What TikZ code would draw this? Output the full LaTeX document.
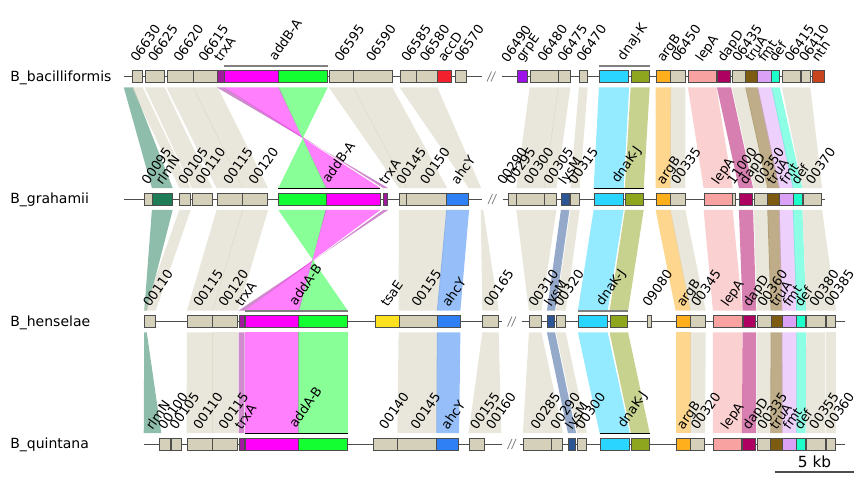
\documentclass[tikz,border=0pt]{standalone}
\usepackage{fontspec}
\setmainfont{DejaVu Sans}
\usetikzlibrary{backgrounds}

\definecolor{beige}{HTML}{D4D0B9}
\definecolor{genedge}{HTML}{4D4D4D}
\definecolor{trxcol}{HTML}{A01A9C}
\definecolor{addBcol}{HTML}{FF00FA}
\definecolor{addAcol}{HTML}{14FF32}
\definecolor{accDcol}{HTML}{F2202D}
\definecolor{grpEcol}{HTML}{9E12EA}
\definecolor{dnaJcol}{HTML}{2AD6FF}
\definecolor{dnaKcol}{HTML}{8DA61E}
\definecolor{argBcol}{HTML}{FFAE1C}
\definecolor{lepAcol}{HTML}{F8A2A2}
\definecolor{dapDcol}{HTML}{AE0061}
\definecolor{truAcol}{HTML}{7D5C12}
\definecolor{fmtcol}{HTML}{DBA1F7}
\definecolor{defcol}{HTML}{1CFFCA}
\definecolor{nthcol}{HTML}{C7441E}
\definecolor{rlmNcol}{HTML}{1E7C57}
\definecolor{ahcYcol}{HTML}{2E80F4}
\definecolor{lysMcol}{HTML}{2C5596}
\definecolor{tsaEcol}{HTML}{FFE21F}

\tikzstyle{gene}=[rectangle, draw=genedge, line width=0.6pt, inner sep=0pt, minimum height=9pt]
\tikzstyle{stub}=[rectangle, inner sep=0pt, minimum height=9pt]
\tikzstyle{glab}=[rotate=55, anchor=base west, inner sep=0pt, font=\fontsize{9.75}{11}\selectfont]
\tikzstyle{rowname}=[anchor=base west, inner sep=0pt, font=\fontsize{10.5}{12}\selectfont]
\tikzstyle{homlink}=[fill opacity=0.5]
\tikzstyle{backbone}=[draw=genedge, line width=0.7pt]
\tikzstyle{brk}=[draw=gray, line width=0.6pt]
\tikzstyle{greybar}=[draw=gray, line width=1.3pt]
\tikzstyle{blackbar}=[draw=black, line width=1.3pt]

\newcommand{\yA}{76.5}
\newcommand{\yB}{199}
\newcommand{\yC}{321.5}
\newcommand{\yD}{444}
\newcommand{\seg}[5]{\node[gene, fill=#5, minimum width={(#3-#2)*0.75pt}] (#1) at ({(#2+#3)/2},#4) {};}
\newcommand{\gene}[6]{\seg{#1}{#2}{#3}{#4}{#5}
  \node[glab] (#1-l) at ([yshift=5.25pt]#1.north) {#6};}
\newcommand{\stub}[4]{\node[stub, minimum width={(#3-#2)*0.75pt}] (#1) at ({(#2+#3)/2},#4) {};}
\newcommand{\stubl}[5]{\stub{#1}{#2}{#3}{#4}
  \node[glab] (#1-l) at ([yshift=5.25pt]#1.north) {#5};}
\newcommand{\grp}[4]{\draw[#1] ([yshift=3pt]#2.north west) -- node[glab, pos=.5, xshift=2pt, yshift=2.25pt] (#2-g) {#4} ([yshift=3pt]#3.north east);}
\newcommand{\band}[5]{\fill[homlink, #5] ([yshift=-3.4pt]#1.south west) -- ([yshift=-3.4pt]#2.south east)
  -- ([yshift=3.4pt]#4.north east) -- ([yshift=3.4pt]#3.north west) -- cycle;}
\newcommand{\homol}[3]{\band{#1}{#1}{#2}{#2}{#3}}
\newcommand{\invl}[3]{\fill[homlink, #3] ([yshift=-3.4pt]#1.south west) -- ([yshift=-3.4pt]#1.south east)
  -- ([yshift=3.4pt]#2.north west) -- ([yshift=3.4pt]#2.north east) -- cycle;}
\newcommand{\cut}[2]{\draw[brk] (#1,#2+5) -- (#1+4.5,#2-5) (#1+4,#2+5) -- (#1+8.5,#2-5);}

\begin{document}
\begin{tikzpicture}[x=0.75pt, y=-0.75pt]
\useasboundingbox (0,0) rectangle (864,482);

\node[rowname] (nA) at (10,\yA+4.5) {B\_bacilliformis};
\node[rowname] (nB) at (10,\yB+4.5) {B\_grahamii};
\node[rowname] (nC) at (10,\yC+4.5) {B\_henselae};
\node[rowname] (nD) at (10,\yD+4.5) {B\_quintana};

\draw[backbone] (124,\yA) -- (481.7,\yA) (502,\yA) -- (824,\yA);
\draw[backbone] (124,\yB) -- (481.7,\yB) (503,\yB) -- (825,\yB);
\draw[backbone] (144,\yC) -- (501.7,\yC) (521.7,\yC) -- (845,\yC);
\draw[backbone] (144,\yD) -- (501.7,\yD) (520,\yD) -- (845,\yD);
\cut{487}{\yA}
\cut{488}{\yB}
\cut{507.5}{\yC}
\cut{507.5}{\yD}

\stub{arlmN}{124}{133}{\yA}
\gene{a06630}{132.3}{142.3}{\yA}{beige}{06630}
\gene{a06625}{145.3}{164.3}{\yA}{beige}{06625}
\gene{a06620}{167}{193.3}{\yA}{beige}{06620}
\gene{a06615}{193.3}{217.3}{\yA}{beige}{06615}
\gene{atrxA}{217.3}{224}{\yA}{trxcol}{trxA}
\seg{aaddB}{224.7}{278.7}{\yA}{addBcol}
\seg{aaddA}{278.7}{327.3}{\yA}{addAcol}
\gene{a06595}{329.3}{353.3}{\yA}{beige}{06595}
\gene{a06590}{353.3}{392}{\yA}{beige}{06590}
\gene{a06585}{400}{416}{\yA}{beige}{06585}
\gene{a06580}{416}{437}{\yA}{beige}{06580}
\gene{aaccD}{437}{451.7}{\yA}{accDcol}{accD}
\gene{a06570}{455}{466.7}{\yA}{beige}{06570}
\node[glab] (a06490-l) at (508,\yA-13) {06490};
\gene{agrpE}{517}{527.7}{\yA}{grpEcol}{grpE}
\gene{a06480}{530}{558.3}{\yA}{beige}{06480}
\gene{a06475}{558.3}{570}{\yA}{beige}{06475}
\gene{a06470}{579.3}{587.3}{\yA}{beige}{06470}
\seg{adnaJ}{599.3}{628.7}{\yA}{dnaJcol}
\seg{adnaK}{631}{649.3}{\yA}{dnaKcol}
\gene{aargB}{656}{670.7}{\yA}{argBcol}{argB}
\gene{a06450}{670.7}{685}{\yA}{beige}{06450}
\gene{alepA}{688.3}{716}{\yA}{lepAcol}{lepA}
\gene{adapD}{717.3}{730.7}{\yA}{dapDcol}{dapD}
\gene{a06435}{732.3}{745.7}{\yA}{beige}{06435}
\gene{atruA}{745.7}{757.7}{\yA}{truAcol}{truA}
\gene{afmt}{757.7}{771.7}{\yA}{fmtcol}{fmt}
\gene{adef}{771.7}{779.3}{\yA}{defcol}{def}
\gene{a06415}{782.3}{800}{\yA}{beige}{06415}
\gene{a06410}{801.3}{810}{\yA}{beige}{06410}
\gene{anth}{812.3}{824.3}{\yA}{nthcol}{nth}
\grp{greybar}{aaddB}{aaddA}{addB-A}
\grp{greybar}{adnaJ}{adnaK}{dnaJ-K}

\gene{b00095}{144.3}{152.3}{\yB}{beige}{00095}
\gene{brlmN}{152.3}{172.3}{\yB}{rlmNcol}{rlmN}
\gene{b00105}{179.7}{190.3}{\yB}{beige}{00105}
\gene{b00110}{192.3}{212}{\yB}{beige}{00110}
\gene{b00115}{217}{242.7}{\yB}{beige}{00115}
\gene{b00120}{242.7}{267.7}{\yB}{beige}{00120}
\seg{baddA}{278.7}{326}{\yB}{addAcol}
\seg{baddB}{326}{380}{\yB}{addBcol}
\gene{btrxA}{383.7}{387.7}{\yB}{trxcol}{trxA}
\gene{b00145}{399.3}{406.7}{\yB}{beige}{00145}
\gene{b00150}{406.7}{446.7}{\yB}{beige}{00150}
\gene{bahcY}{446.7}{468.7}{\yB}{ahcYcol}{ahcY}
\stub{bx}{469}{481}{\yB}
\stub{by}{481}{483}{\yB}
\node[glab] (b00290-l) at (504,\yB-13) {00290};
\gene{b00295}{508.3}{516.7}{\yB}{beige}{00295}
\gene{b00300}{516.7}{544.3}{\yB}{beige}{00300}
\gene{b00305}{544.3}{556}{\yB}{beige}{00305}
\gene{blysM}{561.3}{569}{\yB}{lysMcol}{lysM}
\gene{b00315}{570.7}{579.3}{\yB}{beige}{00315}
\seg{bdnaK}{594}{623.3}{\yB}{dnaJcol}
\seg{bdnaJ}{625.3}{643.3}{\yB}{dnaKcol}
\gene{bargB}{656}{670.3}{\yB}{argBcol}{argB}
\gene{b00335}{670.3}{685}{\yB}{beige}{00335}
\gene{blepA}{704}{732.3}{\yB}{lepAcol}{lepA}
\gene{b11000}{732.3}{735.3}{\yB}{beige}{11000}
\gene{bdapD}{739.3}{752.7}{\yB}{dapDcol}{dapD}
\gene{b00350}{754.3}{767.7}{\yB}{beige}{00350}
\gene{btruA}{767.7}{779.3}{\yB}{truAcol}{truA}
\gene{bfmt}{779.3}{793.3}{\yB}{fmtcol}{fmt}
\gene{bdef}{793.3}{802}{\yB}{defcol}{def}
\gene{b00370}{803}{821.7}{\yB}{beige}{00370}
\grp{blackbar}{baddA}{baddB}{addB-A}
\grp{blackbar}{bdnaK}{bdnaJ}{dnaK-J}

\gene{c00110}{144.3}{155.3}{\yC}{beige}{00110}
\stub{crlmN}{144.5}{146.5}{\yC}
\gene{c00115}{187.3}{212.7}{\yC}{beige}{00115}
\gene{c00120}{212.7}{237.7}{\yC}{beige}{00120}
\gene{ctrxA}{239}{244.3}{\yC}{trxcol}{trxA}
\seg{caddB}{245.3}{298.7}{\yC}{addBcol}
\seg{caddA}{298.7}{347.3}{\yC}{addAcol}
\gene{ctsaE}{375.7}{399}{\yC}{tsaEcol}{tsaE}
\gene{c00155}{399}{437.3}{\yC}{beige}{00155}
\gene{cahcY}{437.3}{460}{\yC}{ahcYcol}{ahcY}
\gene{c00165}{482.7}{498.3}{\yC}{beige}{00165}
\gene{c00310}{529.3}{541}{\yC}{beige}{00310}
\gene{clysM}{547.3}{554.7}{\yC}{lysMcol}{lysM}
\gene{c00320}{556.3}{565.3}{\yC}{beige}{00320}
\seg{cdnaK}{578.3}{607.3}{\yC}{dnaJcol}
\seg{cdnaJ}{610}{627.7}{\yC}{dnaKcol}
\gene{c09080}{647.3}{651}{\yC}{beige}{09080}
\gene{cargB}{676}{690.3}{\yC}{argBcol}{argB}
\gene{c00345}{690.3}{705.3}{\yC}{beige}{00345}
\gene{clepA}{713.3}{742}{\yC}{lepAcol}{lepA}
\gene{cdapD}{743}{755.7}{\yC}{dapDcol}{dapD}
\gene{c00360}{757.3}{771}{\yC}{beige}{00360}
\gene{ctruA}{771}{782}{\yC}{truAcol}{truA}
\gene{cfmt}{782}{796.7}{\yC}{fmtcol}{fmt}
\gene{cdef}{796.7}{805.7}{\yC}{defcol}{def}
\gene{c00380}{806.7}{825}{\yC}{beige}{00380}
\gene{c00385}{826.3}{835.7}{\yC}{beige}{00385}
\grp{greybar}{caddB}{caddA}{addA-B}
\grp{greybar}{cdnaK}{cdnaJ}{dnaK-J}

\stubl{drlmN}{144}{161}{\yD}{rlmN}
\gene{d00100}{159.3}{170.3}{\yD}{beige}{00100}
\gene{d00105}{171.3}{181.3}{\yD}{beige}{00105}
\gene{d00110}{187}{212.7}{\yD}{beige}{00110}
\gene{d00115}{212.7}{237.7}{\yD}{beige}{00115}
\gene{dtrxA}{239}{244}{\yD}{trxcol}{trxA}
\seg{daddB}{245.3}{298.7}{\yD}{addBcol}
\seg{daddA}{298.7}{347.3}{\yD}{addAcol}
\gene{d00140}{373.7}{397.7}{\yD}{beige}{00140}
\gene{d00145}{397.7}{436.7}{\yD}{beige}{00145}
\gene{dahcY}{436.7}{458.7}{\yD}{ahcYcol}{ahcY}
\gene{d00155}{469}{484.3}{\yD}{beige}{00155}
\stubl{dx}{484.3}{501}{\yD}{00160}
\gene{d00285}{523.3}{551.3}{\yD}{beige}{00285}
\gene{d00290}{551.3}{562.7}{\yD}{beige}{00290}
\gene{dlysM}{568.3}{575.7}{\yD}{lysMcol}{lysM}
\gene{d00300}{577.7}{586.7}{\yD}{beige}{00300}
\seg{ddnaK}{600}{629.3}{\yD}{dnaJcol}
\seg{ddnaJ}{631.3}{649.3}{\yD}{dnaKcol}
\gene{dargB}{676}{690.3}{\yD}{argBcol}{argB}
\gene{d00320}{690.3}{704.7}{\yD}{beige}{00320}
\gene{dlepA}{713.3}{741.7}{\yD}{lepAcol}{lepA}
\gene{ddapD}{742.3}{755.7}{\yD}{dapDcol}{dapD}
\gene{d00335}{757.3}{770.7}{\yD}{beige}{00335}
\gene{dtruA}{770.7}{782.3}{\yD}{truAcol}{truA}
\gene{dfmt}{782.3}{796.7}{\yD}{fmtcol}{fmt}
\gene{ddef}{796.7}{805.3}{\yD}{defcol}{def}
\gene{d00355}{806.3}{825}{\yD}{beige}{00355}
\gene{d00360}{826.3}{835.7}{\yD}{beige}{00360}
\grp{blackbar}{daddB}{daddA}{addA-B}
\grp{blackbar}{ddnaK}{ddnaJ}{dnaK-J}

\begin{pgfonlayer}{background}
\homol{arlmN}{brlmN}{rlmNcol}
\homol{a06630}{b00105}{beige}
\homol{a06625}{b00110}{beige}
\homol{a06620}{b00115}{beige}
\homol{a06615}{b00120}{beige}
\invl{atrxA}{btrxA}{trxcol}
\invl{aaddB}{baddB}{addBcol}
\invl{aaddA}{baddA}{addAcol}
\homol{a06595}{b00145}{beige}
\homol{a06590}{b00150}{beige}
\band{a06585}{a06580}{bx}{bx}{beige}
\homol{a06480}{b00300}{beige}
\homol{a06475}{b00305}{beige}
\homol{a06470}{b00315}{beige}
\homol{adnaJ}{bdnaK}{dnaJcol}
\homol{adnaK}{bdnaJ}{dnaKcol}
\homol{aargB}{bargB}{argBcol}
\homol{a06450}{b00335}{beige}
\homol{alepA}{blepA}{lepAcol}
\homol{adapD}{bdapD}{dapDcol}
\homol{a06435}{b00350}{beige}
\homol{atruA}{btruA}{truAcol}
\homol{afmt}{bfmt}{fmtcol}
\homol{adef}{bdef}{defcol}
\band{a06415}{a06410}{b00370}{b00370}{beige}

\homol{brlmN}{crlmN}{rlmNcol}
\homol{b00105}{c00110}{beige}
\homol{b00115}{c00115}{beige}
\homol{b00120}{c00120}{beige}
\invl{btrxA}{ctrxA}{trxcol}
\invl{baddA}{caddA}{addAcol}
\invl{baddB}{caddB}{addBcol}
\band{b00145}{b00150}{c00155}{c00155}{beige}
\homol{bahcY}{cahcY}{ahcYcol}
\homol{by}{c00165}{beige}
\band{b00300}{b00305}{c00310}{c00310}{beige}
\homol{blysM}{clysM}{lysMcol}
\homol{b00315}{c00320}{beige}
\homol{bdnaK}{cdnaK}{dnaJcol}
\homol{bdnaJ}{cdnaJ}{dnaKcol}
\homol{bargB}{cargB}{argBcol}
\homol{b00335}{c00345}{beige}
\homol{blepA}{clepA}{lepAcol}
\homol{bdapD}{cdapD}{dapDcol}
\homol{b00350}{c00360}{beige}
\homol{btruA}{ctruA}{truAcol}
\homol{bfmt}{cfmt}{fmtcol}
\homol{bdef}{cdef}{defcol}
\band{b00370}{b00370}{c00380}{c00385}{beige}

\homol{crlmN}{drlmN}{rlmNcol}
\homol{c00115}{d00110}{beige}
\homol{c00120}{d00115}{beige}
\homol{ctrxA}{dtrxA}{trxcol}
\homol{caddB}{daddB}{addBcol}
\homol{caddA}{daddA}{addAcol}
\homol{c00155}{d00145}{beige}
\homol{cahcY}{dahcY}{ahcYcol}
\band{c00165}{c00165}{d00155}{dx}{beige}
\band{c00310}{c00310}{d00285}{d00290}{beige}
\homol{clysM}{dlysM}{lysMcol}
\homol{c00320}{d00300}{beige}
\homol{cdnaK}{ddnaK}{dnaJcol}
\homol{cdnaJ}{ddnaJ}{dnaKcol}
\homol{cargB}{dargB}{argBcol}
\homol{c00345}{d00320}{beige}
\homol{clepA}{dlepA}{lepAcol}
\homol{cdapD}{ddapD}{dapDcol}
\homol{c00360}{d00335}{beige}
\homol{ctruA}{dtruA}{truAcol}
\homol{cfmt}{dfmt}{fmtcol}
\homol{cdef}{ddef}{defcol}
\homol{c00380}{d00355}{beige}
\homol{c00385}{d00360}{beige}
\end{pgfonlayer}

\coordinate (sbL) at (775,472.3);
\coordinate (sbR) at (854,472.3);
\draw[draw=genedge, line width=1.3pt] (sbL) -- (sbR);
\node[anchor=base, inner sep=0pt, font=\fontsize{11.5}{13}\selectfont] (sbT) at (814.5,467) {5 kb};
\end{tikzpicture}
\end{document}
